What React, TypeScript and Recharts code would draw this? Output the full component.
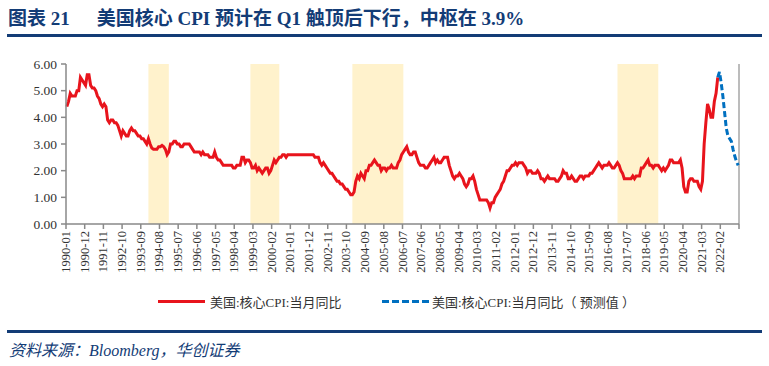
import React from "react";
import { LineChart, Line, XAxis, YAxis, ReferenceArea, ReferenceLine } from "recharts";

// 美国核心CPI当月同比, 1990-01 .. 2021-12
const coreYoY = [
  4.4, 4.6, 4.9, 4.8, 4.8, 4.8, 5.0, 5.0, 5.5, 5.4, 5.3, 5.2, // 1990
  5.6, 5.6, 5.2, 5.1, 5.1, 5.0, 4.8, 4.7, 4.5, 4.4, 4.5, 4.4, // 1991
  3.9, 3.8, 3.9, 3.9, 3.8, 3.8, 3.7, 3.5, 3.3, 3.5, 3.4, 3.3, // 1992
  3.3, 3.5, 3.6, 3.5, 3.5, 3.4, 3.3, 3.3, 3.2, 3.2, 3.1, 3.0, // 1993
  3.2, 3.0, 2.85, 2.8, 2.8, 2.8, 2.9, 2.9, 2.95, 2.9, 2.8, 2.6, // 1994
  2.7, 3.0, 3.0, 3.1, 3.1, 3.0, 3.0, 2.9, 2.9, 3.0, 3.0, 3.0, // 1995
  3.0, 2.9, 2.8, 2.7, 2.7, 2.7, 2.7, 2.6, 2.7, 2.6, 2.6, 2.6, // 1996
  2.5, 2.5, 2.5, 2.7, 2.5, 2.4, 2.4, 2.3, 2.2, 2.2, 2.2, 2.2, // 1997
  2.2, 2.2, 2.1, 2.1, 2.2, 2.2, 2.2, 2.5, 2.5, 2.3, 2.4, 2.4, // 1998
  2.3, 2.1, 2.1, 2.2, 2.0, 2.1, 2.0, 1.9, 2.0, 2.1, 2.1, 1.9, // 1999
  2.0, 2.2, 2.4, 2.3, 2.4, 2.5, 2.5, 2.6, 2.6, 2.5, 2.6, 2.6, // 2000
  2.6, 2.6, 2.6, 2.6, 2.6, 2.6, 2.6, 2.6, 2.6, 2.6, 2.6, 2.6, // 2001
  2.6, 2.6, 2.5, 2.5, 2.5, 2.3, 2.2, 2.3, 2.2, 2.1, 2.0, 1.9, // 2002
  1.9, 1.8, 1.7, 1.6, 1.6, 1.5, 1.5, 1.4, 1.3, 1.3, 1.2, 1.1, // 2003
  1.1, 1.2, 1.6, 1.8, 1.7, 1.9, 1.8, 1.7, 2.0, 2.0, 2.2, 2.2, // 2004
  2.3, 2.4, 2.3, 2.2, 2.2, 2.0, 2.1, 2.1, 2.0, 2.1, 2.1, 2.2, // 2005
  2.1, 2.1, 2.1, 2.3, 2.4, 2.6, 2.7, 2.8, 2.9, 2.7, 2.6, 2.6, // 2006
  2.7, 2.7, 2.5, 2.3, 2.2, 2.2, 2.2, 2.1, 2.1, 2.2, 2.3, 2.4, // 2007
  2.5, 2.3, 2.4, 2.3, 2.3, 2.4, 2.5, 2.5, 2.5, 2.2, 2.0, 1.8, // 2008
  1.7, 1.8, 1.8, 1.9, 1.8, 1.7, 1.5, 1.4, 1.5, 1.7, 1.7, 1.8, // 2009
  1.6, 1.3, 1.1, 0.9, 0.9, 0.9, 0.9, 0.9, 0.8, 0.6, 0.8, 0.8, // 2010
  1.0, 1.1, 1.2, 1.3, 1.5, 1.6, 1.8, 2.0, 2.0, 2.1, 2.2, 2.2, // 2011
  2.3, 2.2, 2.3, 2.3, 2.3, 2.2, 2.1, 1.9, 2.0, 2.0, 1.9, 1.9, // 2012
  1.9, 2.0, 1.9, 1.7, 1.7, 1.6, 1.7, 1.8, 1.7, 1.7, 1.7, 1.7, // 2013
  1.6, 1.6, 1.7, 1.8, 2.0, 1.9, 1.9, 1.7, 1.7, 1.8, 1.7, 1.6, // 2014
  1.6, 1.7, 1.8, 1.8, 1.7, 1.8, 1.8, 1.8, 1.9, 1.9, 2.0, 2.1, // 2015
  2.2, 2.3, 2.2, 2.1, 2.2, 2.2, 2.2, 2.3, 2.2, 2.1, 2.1, 2.2, // 2016
  2.3, 2.2, 2.0, 1.9, 1.7, 1.7, 1.7, 1.7, 1.7, 1.8, 1.7, 1.8, // 2017
  1.8, 1.8, 2.1, 2.1, 2.2, 2.3, 2.4, 2.2, 2.2, 2.1, 2.2, 2.2, // 2018
  2.2, 2.1, 2.0, 2.1, 2.0, 2.1, 2.2, 2.4, 2.4, 2.3, 2.3, 2.3, // 2019
  2.3, 2.4, 2.1, 1.4, 1.2, 1.2, 1.6, 1.7, 1.7, 1.6, 1.6, 1.6, // 2020
  1.4, 1.3, 1.6, 3.0, 3.8, 4.5, 4.3, 4.0, 4.0, 4.6, 4.9, 5.5, // 2021
];

// 预测值, 2021-12 .. 2022-12
const forecastStart = 383;
const forecastYoY = [5.5, 5.7, 5.3, 4.8, 4.2, 3.6, 3.3, 3.2, 3.1, 2.8, 2.55, 2.35, 2.2];

const tickLabels = [
  "1990-01", "1990-12", "1991-11", "1992-10", "1993-09", "1994-08", "1995-07",
  "1996-06", "1997-05", "1998-04", "1999-03", "2000-02", "2001-01", "2001-12",
  "2002-11", "2003-10", "2004-09", "2005-08", "2006-07", "2007-06", "2008-05",
  "2009-04", "2010-03", "2011-02", "2012-01", "2012-12", "2013-11", "2014-10",
  "2015-09", "2016-08", "2017-07", "2018-06", "2019-05", "2020-04", "2021-03",
  "2022-02",
];
const tickStep = 11;
const monthCount = 396;

const yTicks = [0, 1, 2, 3, 4, 5, 6];

// shaded periods
const bandPeriods = [
  ["1994-01", "1995-01"],
  ["1999-01", "2000-06"],
  ["2004-01", "2006-07"],
  ["2017-01", "2019-01"],
];

const monthIndex = (s: string) => {
  const [y, m] = s.split("-").map(Number);
  return (y - 1990) * 12 + (m - 1);
};

const rows = Array.from({ length: monthCount }, (_, i) => ({
  pos: i + 0.5,
  core: i < coreYoY.length ? coreYoY[i] : null,
  forecast: i >= forecastStart ? forecastYoY[i - forecastStart] ?? null : null,
}));

const xTicks = Array.from({ length: monthCount / tickStep + 1 }, (_, k) => k * tickStep);

const RED = "#E8141C";
const BLUE = "#0070C0";
const NAVY = "#133C76";
const serif = "'Times New Roman', 'Liberation Serif', 'Noto Sans CJK SC', serif";

function XTick(props: any) {
  const { x, y, payload } = props;
  const label = tickLabels[Math.round(payload.value / tickStep)] ?? "";
  return (
    <g transform={`translate(${x + 4},${y}) rotate(-90)`}>
      <text textAnchor="end" fontSize={12.5} fontFamily={serif} fill="#333">
        {label}
      </text>
    </g>
  );
}

export default function App() {
  return (
    <div
      style={{
        position: "absolute",
        left: 0,
        top: 0,
        width: 769,
        height: 366,
        background: "#fff",
        fontFamily: serif,
      }}
    >
      <div
        style={{
          position: "absolute",
          left: 8,
          top: 3,
          fontSize: 19,
          fontWeight: 700,
          color: NAVY,
          whiteSpace: "nowrap",
        }}
      >
        <span style={{ marginRight: 27 }}>图表 21</span>
        美国核心 CPI 预计在 Q1 触顶后下行，中枢在 3.9%
      </div>
      <div style={{ position: "absolute", left: 7, top: 34, width: 755, height: 3, background: NAVY }} />

      <LineChart
        width={769}
        height={290}
        data={rows}
        margin={{ top: 64, right: 30, bottom: 6, left: 0 }}
        style={{ position: "absolute", left: 0, top: 0 }}
      >
        {bandPeriods.map(([a, b]) => (
          <ReferenceArea
            key={a}
            x1={monthIndex(a) + 0.5}
            x2={monthIndex(b) + 0.5}
            fill="#FFF2CC"
            fillOpacity={1}
            stroke="none"
          />
        ))}
        <XAxis
          type="number"
          dataKey="pos"
          domain={[0, monthCount]}
          ticks={xTicks}
          interval={0}
          height={60}
          tick={<XTick />}
          tickSize={5}
          tickMargin={2}
          stroke="#898989"
          strokeWidth={1.5}
        />
        <YAxis
          domain={[0, 6]}
          ticks={yTicks}
          width={66}
          tickSize={5}
          tickMargin={4}
          tickFormatter={(v) => Number(v).toFixed(2)}
          tick={{ fontSize: 13.5, fill: "#333", fontFamily: serif }}
          stroke="#898989"
          strokeWidth={1.5}
        />
        <ReferenceLine x={monthCount} stroke="#a6a6a6" strokeWidth={1.5} />
        <Line
          type="linear"
          dataKey="core"
          stroke={RED}
          strokeWidth={3}
          dot={false}
          isAnimationActive={false}
        />
        <Line
          type="linear"
          dataKey="forecast"
          stroke={BLUE}
          strokeWidth={3}
          strokeDasharray="6 3"
          dot={false}
          isAnimationActive={false}
        />
      </LineChart>

      <div style={{ position: "absolute", left: 158, top: 300, width: 47, height: 3, background: RED }} />
      <div style={{ position: "absolute", left: 210, top: 292, fontSize: 13, color: "#333", whiteSpace: "nowrap" }}>
        美国:核心CPI:当月同比
      </div>
      <svg style={{ position: "absolute", left: 382, top: 299 }} width={47} height={5}>
        <line x1={0} y1={2.5} x2={47} y2={2.5} stroke={BLUE} strokeWidth={3} strokeDasharray="7 3" />
      </svg>
      <div style={{ position: "absolute", left: 432, top: 292, fontSize: 13, color: "#333", whiteSpace: "nowrap" }}>
        美国:核心CPI:当月同比（ 预测值 ）
      </div>

      <div style={{ position: "absolute", left: 7, top: 330, width: 755, height: 3, background: NAVY }} />
      <div
        style={{
          position: "absolute",
          left: 9,
          top: 337,
          fontSize: 16,
          fontStyle: "italic",
          color: NAVY,
          whiteSpace: "nowrap",
        }}
      >
        资料来源：Bloomberg，华创证券
      </div>
    </div>
  );
}
